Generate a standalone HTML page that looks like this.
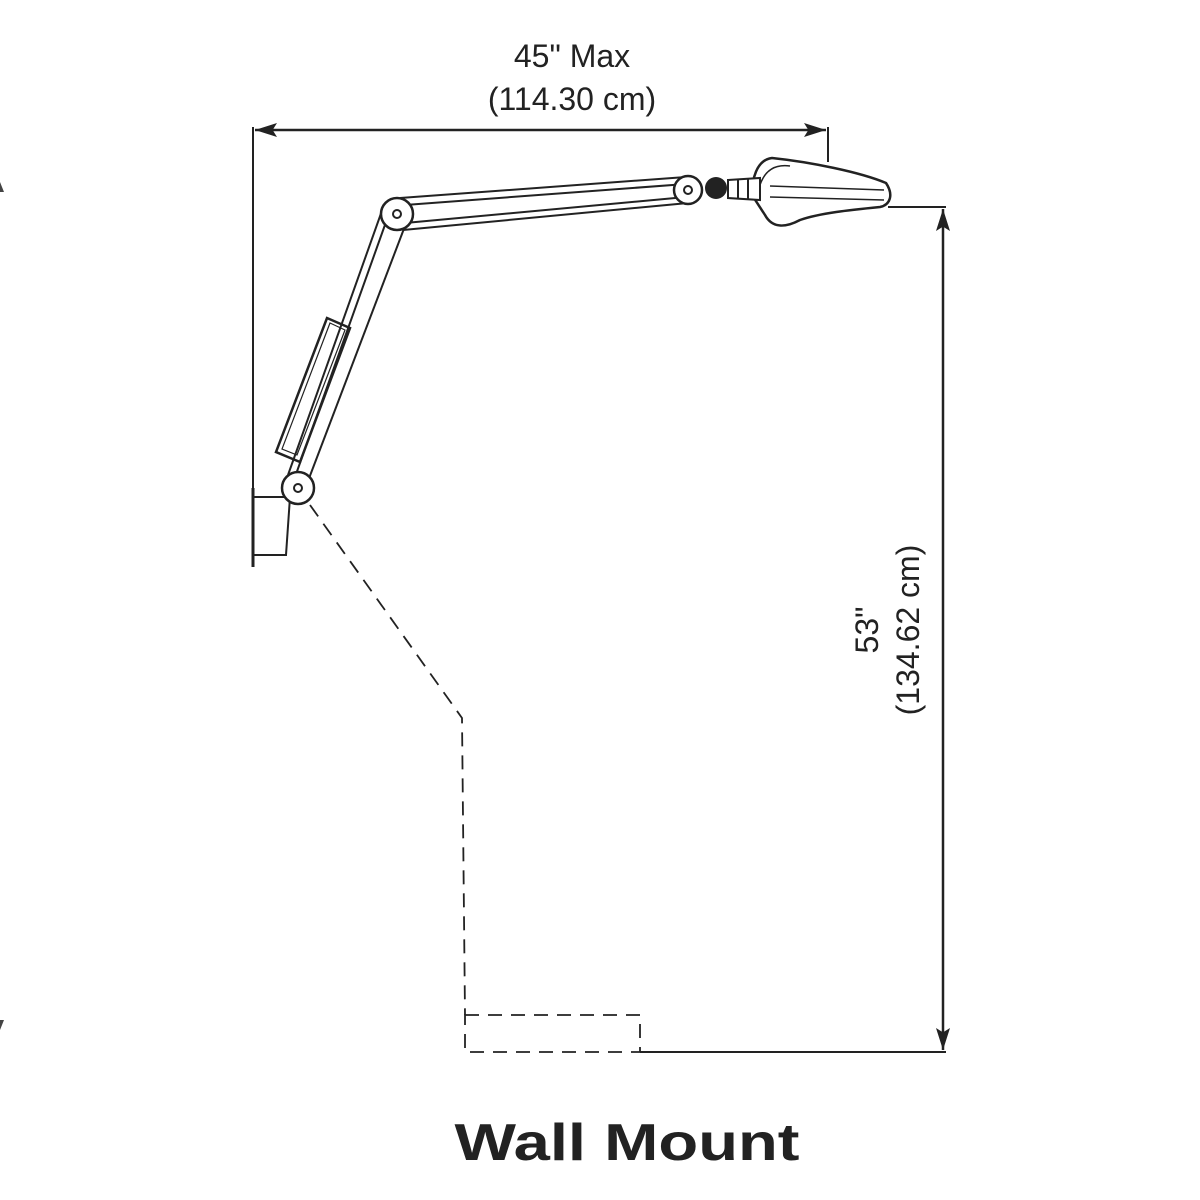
<!DOCTYPE html>
<html><head><style>body{margin:0;background:#fff}svg{display:block}</style></head><body>
<svg width="1200" height="1200" viewBox="0 0 1200 1200" xmlns="http://www.w3.org/2000/svg" font-family="Liberation Sans, sans-serif">
<defs><marker id="a" viewBox="0 0 10 10" refX="10" refY="5" markerWidth="22" markerHeight="14" orient="auto-start-reverse" markerUnits="userSpaceOnUse" preserveAspectRatio="none"><path d="M0,0 L10,5 L0,10 L2,5 z" fill="#222"/></marker></defs>
<g stroke="#222" fill="none" stroke-width="2">
<line x1="253" y1="127" x2="253" y2="490"/>
<line x1="828" y1="127" x2="828" y2="162"/>
<line x1="255" y1="130" x2="826" y2="130" marker-start="url(#a)" marker-end="url(#a)" stroke-width="2.5"/>
<line x1="888" y1="207" x2="946" y2="207"/>
<line x1="640" y1="1052" x2="946" y2="1052"/>
<line x1="943" y1="209" x2="943" y2="1050" marker-start="url(#a)" marker-end="url(#a)" stroke-width="2.5"/>
<g stroke-dasharray="14,9" stroke-width="1.8">
<polyline points="310,505 462,718 465,1015"/>
<rect x="465" y="1015" width="175" height="37"/>
</g>
<line x1="253" y1="488" x2="253" y2="567" stroke-width="3"/>
<polyline points="253,497 290,497 286,555 253,555"/>
<line x1="288" y1="475" x2="384" y2="205"/>
<line x1="308" y1="481" x2="405" y2="226"/>
<line x1="295" y1="477" x2="391" y2="208"/>
<path d="M327,318 L350,328 L300,462 L276,452 z" stroke-width="2.5"/>
<path d="M330,323 L345,330 L297,455 L282,449 z" stroke-width="1.2"/>
<line x1="400" y1="198" x2="686" y2="177"/>
<line x1="403" y1="230" x2="688" y2="203"/>
<line x1="405" y1="205" x2="686" y2="184"/>
<line x1="405" y1="223" x2="686" y2="197"/>
<path d="M752,195 C752,180 756,160 772,158 C810,162 860,172 886,183 C894,195 890,205 880,207 C850,210 820,213 800,220 C785,228 772,228 765,215 Z" fill="#fff" stroke-width="2.5"/>
<path d="M760,185 C765,170 775,164 790,166" stroke-width="1.5"/>
<line x1="770" y1="186" x2="884" y2="190" stroke-width="1.5"/>
<line x1="770" y1="197" x2="884" y2="200" stroke-width="1.5"/>
<path d="M728,180 L760,178 L760,200 L728,198 Z" fill="#fff"/>
<line x1="738" y1="180" x2="738" y2="198"/>
<line x1="748" y1="179" x2="748" y2="199"/>
</g>
<circle cx="716" cy="188" r="11" fill="#222"/>
<g fill="#fff" stroke="#222" stroke-width="2.5">
<circle cx="688" cy="190" r="14"/><circle cx="688" cy="190" r="4" stroke-width="2"/>
<circle cx="397" cy="214" r="16"/><circle cx="397" cy="214" r="4" stroke-width="2"/>
<circle cx="298" cy="488" r="16"/><circle cx="298" cy="488" r="4" stroke-width="2"/>
</g>
<path d="M0,182 L4,192 L0,192z M0,1020 L4,1020 L0,1030z" fill="#444"/>
<g fill="#222" font-size="32" text-anchor="middle">
<text x="572" y="67">45" Max</text>
<text x="572" y="110">(114.30 cm)</text>
<g transform="translate(886,630) rotate(-90)"><text x="0" y="-8">53"</text><text x="0" y="33">(134.62 cm)</text></g>
</g>
<text x="627" y="1160" font-size="52" font-weight="bold" text-anchor="middle" fill="#222" textLength="345" lengthAdjust="spacingAndGlyphs">Wall Mount</text>
</svg>
</body></html>
